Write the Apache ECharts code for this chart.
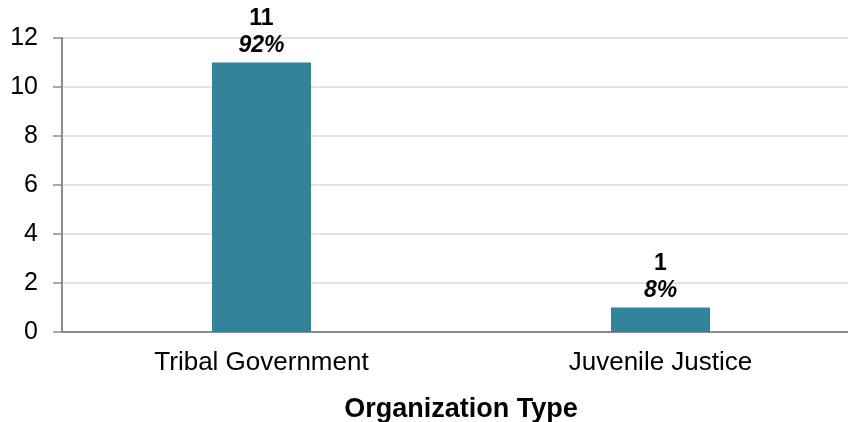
<!DOCTYPE html>
<html>
<head>
<meta charset="utf-8">
<script src="https://cdn.jsdelivr.net/npm/echarts@6/dist/echarts.min.js"></script>
<style>
html,body{margin:0;padding:0;background:#fff;overflow:hidden;}
#c{width:848px;height:422px;}
</style>
</head>
<body>
<div id="c"></div>
<script>
var categories = ["Tribal Government", "Juvenile Justice"];
var counts = [11, 1];
var percents = ["92%", "8%"];
var yTicks = [0, 2, 4, 6, 8, 10, 12];

var FONT = "'Liberation Sans', Arial, sans-serif";
var chart = echarts.init(document.getElementById('c'), null, {renderer: 'canvas', width: 848, height: 422});
chart.setOption({
  animation: false,
  backgroundColor: '#ffffff',
  grid: {left: 62, top: 38, width: 798, height: 294, containLabel: false, outerBoundsMode: 'none'},
  xAxis: {
    type: 'category',
    data: categories,
    name: 'Organization Type',
    nameLocation: 'middle',
    nameGap: 64,
    nameTextStyle: {fontFamily: FONT, fontSize: 27, fontWeight: 'bold', color: '#000'},
    axisLine: {lineStyle: {color: '#8c8c8c', width: 2}},
    axisTick: {show: false},
    axisLabel: {fontFamily: FONT, fontSize: 26, color: '#000', margin: 18}
  },
  yAxis: {
    type: 'value',
    min: yTicks[0],
    max: yTicks[yTicks.length - 1],
    interval: 2,
    axisLine: {show: true, lineStyle: {color: '#8c8c8c', width: 2}},
    axisTick: {show: true, length: 9, lineStyle: {color: '#8c8c8c', width: 1.5}},
    axisLabel: {fontFamily: FONT, fontSize: 25, color: '#000', margin: 24},
    splitLine: {lineStyle: {color: '#d9d9d9', width: 1.5}}
  },
  series: [{
    type: 'bar',
    data: counts,
    barWidth: 99,
    itemStyle: {color: '#31849b'},
    label: {
      show: true,
      position: 'top',
      distance: 3,
      formatter: function (p) {
        return '{n|' + counts[p.dataIndex] + '}\n{p|' + percents[p.dataIndex] + '}';
      },
      rich: {
        n: {fontFamily: FONT, fontSize: 23, fontWeight: 'bold', color: '#000', lineHeight: 27, align: 'center'},
        p: {fontFamily: FONT, fontSize: 23, fontWeight: 'bold', fontStyle: 'italic', color: '#000', lineHeight: 27, align: 'center'}
      }
    }
  }]
});
</script>
</body>
</html>
